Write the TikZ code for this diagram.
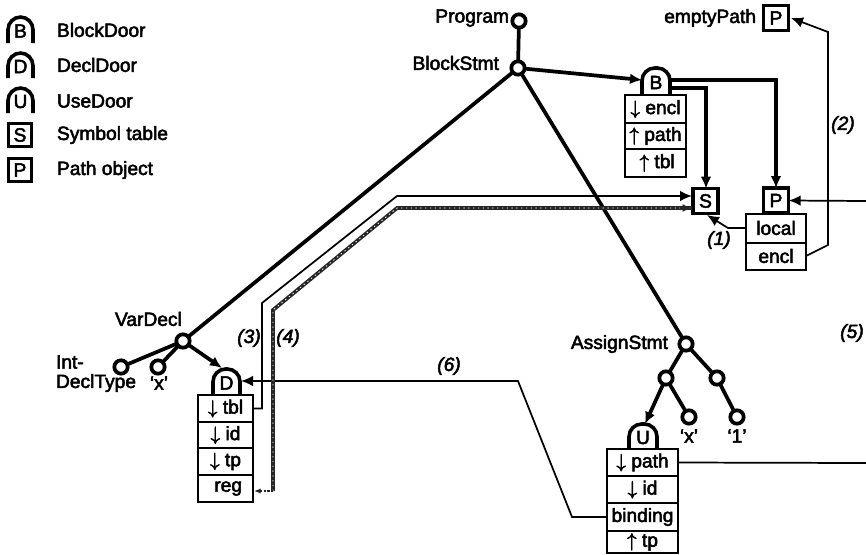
\documentclass[tikz,border=0pt]{standalone}
\usepackage{fontspec}
\setmainfont{Liberation Sans}
\usetikzlibrary{arrows.meta}
\newcommand{\px}{0.75pt}
\newcommand{\heavytext}{\special{pdf:code 2 Tr 0.38 w}}
\newcommand{\dnar}{$\downarrow$}
\newcommand{\upar}{$\uparrow$}
\tikzset{
  x=0.75pt,y=-0.75pt,
  every node/.style={font=\fontsize{14.4}{16}\selectfont\heavytext,inner sep=0pt,outer sep=0pt},
  dot/.style={circle,draw,fill=white,line width=2.8pt,minimum size=10pt},
  tree/.style={line width=2.8pt},
  treearrow/.style={line width=2.8pt,-{Latex[length=9pt,width=8pt]}},
  wire/.style={line width=1.3pt},
  wirearrow/.style={line width=1.3pt,-{Latex[length=9pt,width=8pt]}},
  heavy/.style={line width=2.6pt,-{Latex[length=9pt,width=8pt]}},
  dither/.style={line width=2.8pt,draw=black!85},
  ditherover/.style={line width=0.6pt,draw=white,dash pattern=on 1pt off 2.6pt},
  ditherend/.style={line width=1.8pt,draw=black!85,densely dotted},
  boxed/.style={draw,line width=2.7pt,fill=white,minimum width=19pt,minimum height=18.5pt},
  cell/.style={draw,line width=1.5pt,fill=white},
  doorline/.style={line width=2.7pt,rounded corners=9.5pt},
  numlabel/.style={font=\fontsize{14.4}{16}\selectfont\itshape\heavytext},
  legendtext/.style={anchor=west},
}
\newcommand{\cellnode}[6]{\node[cell,minimum width=#4*\px,minimum height=#5*\px] (#1) at (#2,#3) {#6};}
\newcommand{\doornode}[6]{% name x0 x1 ytop ybot letter
  \draw[doorline] (#2,#5) -- (#2,#4) -- (#3,#4) -- (#3,#5);
  \node[minimum width=27*\px,minimum height=24*\px] (#1) at ({(#2+#3)/2},{(#4+#5)/2+1}) {#6};}
\begin{document}
\begin{tikzpicture}
\useasboundingbox (0,0) rectangle (866,554);
% legend
\doornode{lb}{8}{33}{17}{43}{B}
\doornode{ld}{8}{33}{53}{78}{D}
\doornode{lu}{8}{33}{88}{113}{U}
\node[boxed,minimum width=17.5pt,minimum height=17.5pt] (ls) at (20,135) {S};
\node[boxed,minimum width=17.5pt,minimum height=17.5pt] (lp) at (20,170) {P};
\node[legendtext] (t1) at (57,30) {BlockDoor};
\node[legendtext] (t2) at (57,65) {DeclDoor};
\node[legendtext] (t3) at (57,101) {UseDoor};
\node[legendtext] (t4) at (57,135) {Symbol table};
\node[legendtext] (t5) at (57,170) {Path object};
% tree nodes
\node[dot] (prog) at (519,21) {};
\node[dot] (block) at (518,68) {};
\node[dot] (var) at (183,341) {};
\node[dot] (int) at (121,367) {};
\node[dot] (vx) at (158,367) {};
\node[dot] (assign) at (686,344) {};
\node[dot] (al) at (666,378) {};
\node[dot] (ar) at (717,378) {};
\node[dot] (ax) at (689,417) {};
\node[dot] (aone) at (737,417) {};
\node[anchor=east] (lprog) at (509,18) {Program};
\node[anchor=east] (lblock) at (499,63) {BlockStmt};
\node[anchor=west] (lvar) at (115,319) {VarDecl};
\node[anchor=west] (lint) at (56,362) {Int-};
\node[anchor=west] (ldecl) at (56,383) {DeclType};
\node (lvx) at (159,383) {`x'};
\node[anchor=east] (lassign) at (668,344) {AssignStmt};
\node (lax) at (689,436) {`x'};
\node (lone) at (737,436) {`1'};
% block door
\doornode{bd}{642}{670}{68}{95}{B}
\cellnode{be}{655.5}{109}{61}{28}{\dnar{} encl}
\cellnode{bp}{655.5}{136}{61}{26}{\upar{} path}
\cellnode{bt}{655.5}{163}{61}{28}{\,\upar{} tbl}
% S, P
\node[boxed] (S) at (705.5,201) {S};
\node[boxed] (P) at (776,200.5) {P};
\cellnode{pl}{776}{228}{60}{29}{local}
\cellnode{pe}{776}{256}{60}{27}{encl}
\node[boxed] (E) at (776,18) {P};
\node[anchor=east] (lempty) at (756,18) {emptyPath};
% decl door
\doornode{dd}{213}{240}{369}{395}{D}
\cellnode{dt}{225.5}{408.5}{55}{27}{\dnar{} tbl}
\cellnode{di}{225.5}{435}{55}{26}{\dnar{} id}
\cellnode{dp}{225.5}{461.5}{55}{27}{\dnar{} tp}
\cellnode{dr}{225.5}{488.5}{55}{27}{\ reg}
% use door
\doornode{ud}{629}{657}{424}{449}{U}
\cellnode{up}{642.5}{462.5}{71}{27}{\dnar{} path}
\cellnode{ui}{642.5}{489.5}{71}{27}{\dnar{} id}
\cellnode{ub}{642.5}{517}{71}{28}{binding}
\cellnode{ut}{642.5}{542}{71}{22}{\upar{} tp}
% tree edges
\draw[tree] (prog) -- (block);
\draw[tree] (block) -- (var);
\draw[tree] (block) -- (assign);
\draw[tree] (var) -- (int);
\draw[tree] (var) -- (vx);
\draw[tree] (assign) -- (al);
\draw[tree] (assign) -- (ar);
\draw[tree] (al) -- (ax);
\draw[tree] (ar) -- (aone);
\coordinate (bdin) at (642,80);
\coordinate (vdin) at (222,368);
\coordinate (udin) at (645,424);
\draw[treearrow] (block) -- (bdin);
\draw[treearrow] (var) -- (vdin);
\draw[treearrow] (al) -- (udin);
% heavy pointers
\coordinate (b1) at (670,88);
\coordinate (b1c) at (706,88);
\coordinate (b2) at (670,80);
\coordinate (b2c) at (776,80);
\draw[heavy] (b1) -- (b1c) -- (S.north -| b1c);
\draw[heavy] (b2) -- (b2c) -- (P.north);
% numbered links
\coordinate (c1) at (728,228);
\coordinate (s1) at (707,215);
\draw[wirearrow] (pl.west) -- (c1) -- (s1);
\coordinate (c2a) at (828,245);
\coordinate (c2b) at (828,32);
\coordinate (e2) at (791,18);
\draw[wirearrow] (pe.east) -- (c2a) -- (c2b) -- (e2);
\coordinate (r5) at (866,201);
\draw[wirearrow] (r5) -- (P.east);
\coordinate (r5b) at (866,463);
\draw[wire] (up.east) -- (r5b);
\coordinate (c6a) at (572,517);
\coordinate (c6b) at (518,381);
\coordinate (d6) at (241,381);
\draw[wirearrow] (ub.west) -- (c6a) -- (c6b) -- (d6);
\coordinate (c3a) at (262,408.5);
\coordinate (c3b) at (262,303);
\coordinate (c3c) at (397,196);
\coordinate (s3) at (692,196);
\draw[wirearrow] (dt.east) -- (c3a) -- (c3b) -- (c3c) -- (s3);
\coordinate (c4a) at (273,491);
\coordinate (c4b) at (273,310);
\coordinate (c4c) at (397,208);
\coordinate (s4) at (692,208);
\draw[dither] (c4a) -- (c4b) -- (c4c) -- (s4);
\draw[ditherover] (c4a) -- (c4b) -- (c4c) -- (s4);
\coordinate (regtip) at (254,491);
\coordinate (s4b) at (680,208);
\draw[ditherend,{Latex[length=5pt,width=4pt]}-] (regtip) -- (c4a);
\draw[black!85,line width=1.4pt,-{Latex[length=7pt,width=6pt]}] (s4b) -- (s4);
% number labels
\node[numlabel] (n1) at (719,240) {(1)};
\node[numlabel] (n2) at (843,125) {(2)};
\node[numlabel] (n3) at (249,338) {(3)};
\node[numlabel] (n4) at (288,338) {(4)};
\node[numlabel] (n5) at (852,333) {(5)};
\node[numlabel] (n6) at (449,366) {(6)};
\end{tikzpicture}
\end{document}
